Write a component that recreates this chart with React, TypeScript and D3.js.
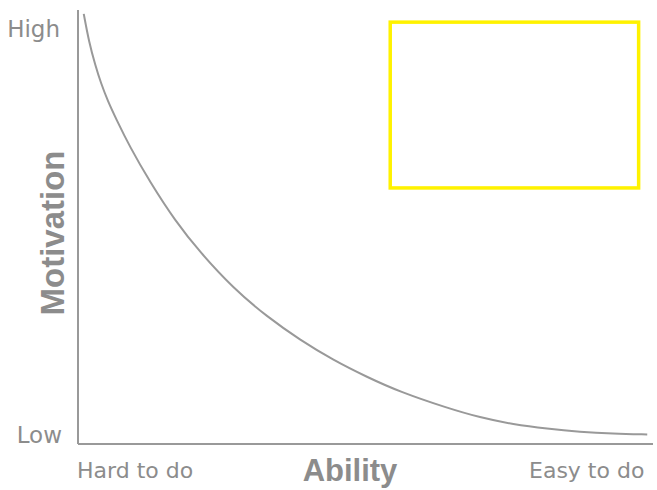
import React from 'react';
import * as d3 from 'd3';

// ability (0 = hard, 100 = easy) vs motivation (0 = low, 100 = high)
const ability = [1, 1.9, 3, 4, 5.2, 6.6, 9, 12.5, 16.9, 21.2, 27, 32.9, 38.6, 44.3, 50.3, 56, 64.2, 69.9, 75.7, 81.6, 87.3, 93, 99];
const motivation = [99.1, 92.7, 87.3, 83.1, 79, 75, 68.5, 60.4, 51.4, 44.2, 35.9, 29.3, 24, 19.4, 15.4, 12, 8.3, 6.1, 4.5, 3.5, 2.8, 2.4, 2.2];

const yTickLabels = ['Low', 'High'];
const xTickLabels = ['Hard to do', 'Easy to do'];

// highlighted zone, in data units
const zoneAbility = [54.3, 97.5];
const zoneMotivation = [59, 97.2];

const width = 657;
const height = 490;

const App: React.FC = () => {
  const x = d3.scaleLinear().domain([0, 100]).range([78, 653]);
  const y = d3.scaleLinear().domain([0, 100]).range([444, 10]);

  const pts = ability.map((a, i) => [a, motivation[i]] as [number, number]);
  const line = d3.line<[number, number]>()
    .x(d => x(d[0]))
    .y(d => y(d[1]))
    .curve(d3.curveBasis);

  const gray = '#8c8c8c';
  const light = 'DejaVu Sans, sans-serif';
  const bold = 'Liberation Sans, Arial, sans-serif';

  return (
    <svg width={width} height={height} style={{ position: 'absolute', left: 0, top: 0 }}>
      <rect width={width} height={height} fill="#fff" />
      {/* axes */}
      <line x1={x(0)} x2={x(0)} y1={y(100)} y2={y(0)} stroke="#999" strokeWidth={2} />
      <line x1={x(0)} x2={x(100)} y1={y(0)} y2={y(0)} stroke="#999" strokeWidth={2} />

      <path d={line(pts) || ''} fill="none" stroke="#999" strokeWidth={2} />

      <rect
        x={x(zoneAbility[0])}
        y={y(zoneMotivation[1])}
        width={x(zoneAbility[1]) - x(zoneAbility[0])}
        height={y(zoneMotivation[0]) - y(zoneMotivation[1])}
        fill="none"
        stroke="#fff200"
        strokeWidth={3.5}
      />

      <text x={62} y={443} textAnchor="end" fill={gray} fontFamily={light} fontSize={23}>{yTickLabels[0]}</text>
      <text x={60} y={37} textAnchor="end" fill={gray} fontFamily={light} fontSize={23}>{yTickLabels[1]}</text>
      <text x={77} y={478} fill={gray} fontFamily={light} fontSize={22}>{xTickLabels[0]}</text>
      <text x={529} y={478} fill={gray} fontFamily={light} fontSize={22}>{xTickLabels[1]}</text>

      <text x={350} y={481} textAnchor="middle" fill={gray} fontFamily={bold} fontWeight="bold" fontSize={31}>Ability</text>
      <text
        transform="translate(64,233) rotate(-90)"
        textAnchor="middle"
        fill={gray}
        fontFamily={bold}
        fontWeight="bold"
        fontSize={33}
      >Motivation</text>
    </svg>
  );
};

export default App;
